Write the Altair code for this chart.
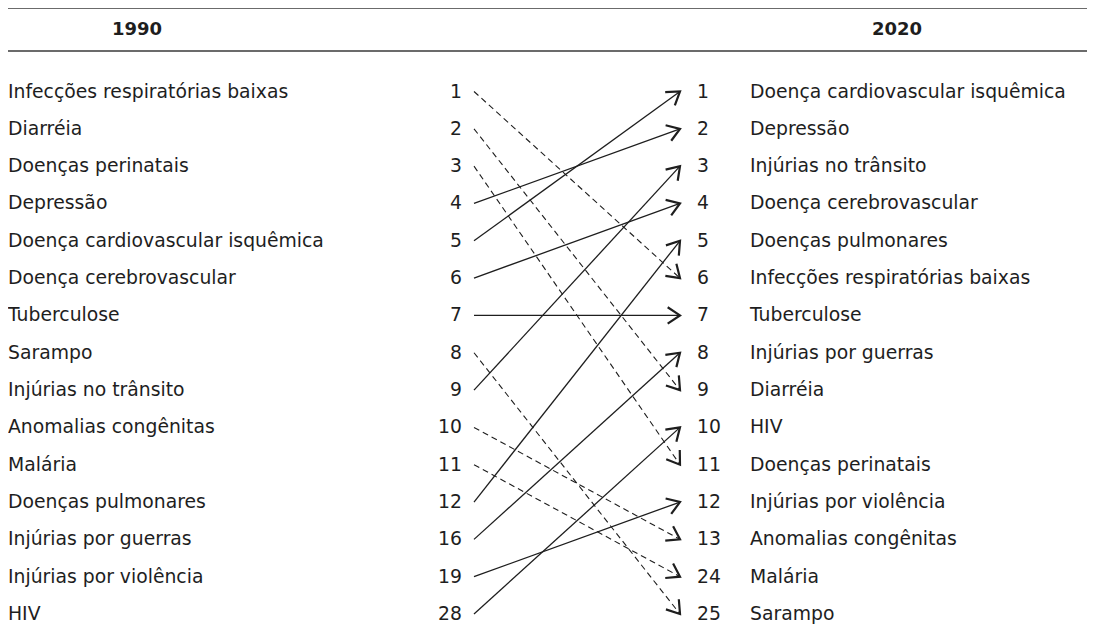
import altair as alt
import pandas as pd
import math

# ---------------- data ----------------
YEARS = ["1990", "2020"]
DISEASES_1990 = [
    "Infecções respiratórias baixas",
    "Diarréia",
    "Doenças perinatais",
    "Depressão",
    "Doença cardiovascular isquêmica",
    "Doença cerebrovascular",
    "Tuberculose",
    "Sarampo",
    "Injúrias no trânsito",
    "Anomalias congênitas",
    "Malária",
    "Doenças pulmonares",
    "Injúrias por guerras",
    "Injúrias por violência",
    "HIV",
]
RANK_1990 = [1, 2, 3, 4, 5, 6, 7, 8, 9, 10, 11, 12, 16, 19, 28]
RANK_2020 = [6, 9, 11, 2, 1, 4, 7, 25, 3, 13, 24, 5, 8, 12, 10]

# ---------------- layout ----------------
FONT = "DejaVu Sans"
FS = 18.8
W, H = 1079, 620
Y0, Y1 = 79.5, 602.0
N = len(DISEASES_1990)
STEP = (Y1 - Y0) / (N - 1)
X_LABEL_L = 0
X_RANK_L = 454
X_LINE_0 = 466
X_LINE_1 = 672
X_RANK_R = 689
X_LABEL_R = 742
INK = "#1e1e1e"

left = pd.DataFrame({"row": range(N), "nome": DISEASES_1990, "rank": RANK_1990})
order = sorted(range(N), key=lambda i: RANK_2020[i])
right = pd.DataFrame({
    "row": range(N),
    "nome": [DISEASES_1990[i] for i in order],
    "rank": [RANK_2020[i] for i in order],
})
row_right = {i: order.index(i) for i in range(N)}
links = pd.DataFrame({
    "rowL": list(range(N)),
    "rowR": [row_right[i] for i in range(N)],
    "tipo": ["sobe" if RANK_2020[i] <= RANK_1990[i] else "desce" for i in range(N)],
})
links["ang"] = [
    (math.degrees(math.atan2((r - l) * STEP, X_LINE_1 - X_LINE_0)) + 360) % 360
    for l, r in zip(links["rowL"], links["rowR"])
]

yscale = alt.Scale(domain=[0, N - 1], range=[Y0, Y1])


def ytxt(field="row"):
    return alt.Y(f"{field}:Q", scale=yscale, axis=None)


txt = dict(font=FONT, fontSize=FS, color=INK, baseline="middle")

left_names = alt.Chart(left).mark_text(align="left", **txt).encode(
    x=alt.value(X_LABEL_L), y=ytxt(), text="nome:N")
left_ranks = alt.Chart(left).mark_text(align="right", **txt).encode(
    x=alt.value(X_RANK_L), y=ytxt(), text="rank:Q")
right_ranks = alt.Chart(right).mark_text(align="left", **txt).encode(
    x=alt.value(X_RANK_R), y=ytxt(), text="rank:Q")
right_names = alt.Chart(right).mark_text(align="left", **txt).encode(
    x=alt.value(X_LABEL_R), y=ytxt(), text="nome:N")

solid = alt.Chart(links).transform_filter("datum.tipo == 'sobe'").mark_rule(
    color=INK, strokeWidth=1.3).encode(
    x=alt.value(X_LINE_0), x2=alt.value(X_LINE_1),
    y=alt.Y("rowL:Q", scale=yscale, axis=None), y2="rowR:Q")
dashed = alt.Chart(links).transform_filter("datum.tipo == 'desce'").mark_rule(
    color=INK, strokeWidth=1.1, strokeDash=[6, 4]).encode(
    x=alt.value(X_LINE_0), x2=alt.value(X_LINE_1),
    y=alt.Y("rowL:Q", scale=yscale, axis=None), y2="rowR:Q")

heads = alt.Chart(links).mark_point(
    shape="M-1.5,-1L0,0L-1.5,1", filled=False, stroke=INK, strokeWidth=2.2,
    size=270, opacity=1, strokeCap="butt", strokeJoin="miter").encode(
    x=alt.value(X_LINE_1),
    y=alt.Y("rowR:Q", scale=yscale, axis=None),
    angle=alt.Angle("ang:Q", scale=None))

one = pd.DataFrame({"k": [0]})
top_rule = alt.Chart(one).mark_rule(color="#3a3a3a", strokeWidth=1.5).encode(
    x=alt.value(0), x2=alt.value(W), y=alt.value(-4))
bottom_rule = alt.Chart(one).mark_rule(color="#3a3a3a", strokeWidth=1.5).encode(
    x=alt.value(0), x2=alt.value(W), y=alt.value(39))

hdr = pd.DataFrame({"ano": YEARS})
hdr_style = dict(font=FONT, fontSize=18, fontWeight="bold", color=INK,
                 baseline="middle", align="center")
h1990 = alt.Chart(hdr).transform_filter(f"datum.ano == '{YEARS[0]}'").mark_text(
    **hdr_style).encode(x=alt.value(129), y=alt.value(18), text="ano:N")
h2020 = alt.Chart(hdr).transform_filter(f"datum.ano == '{YEARS[1]}'").mark_text(
    **hdr_style).encode(x=alt.value(889), y=alt.value(18), text="ano:N")

chart = alt.layer(
    top_rule, bottom_rule, h1990, h2020,
    solid, dashed, heads,
    left_names, left_ranks, right_ranks, right_names,
).properties(
    width=W, height=H,
    autosize=alt.AutoSizeParams(type="none"),
    padding={"left": 0, "top": 4, "right": 0, "bottom": 0},
    background="white",
).configure_view(stroke=None)

chart.save("out.html", embed_options={"renderer": "svg", "actions": False})
